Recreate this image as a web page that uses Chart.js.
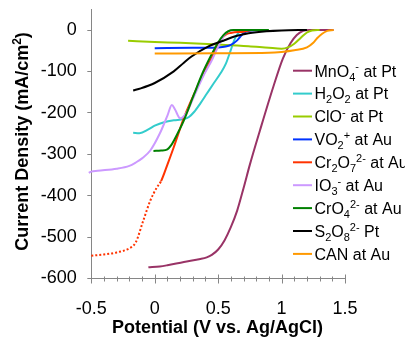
<!DOCTYPE html>
<html lang="en">
<head>
<meta charset="UTF-8" />
<title>Current density vs potential</title>
<script src="https://cdn.jsdelivr.net/npm/chart.js"></script>
<style>
  html, body { margin: 0; padding: 0; background: #fff; }
  #wrap { width: 405px; height: 339px; position: relative; }
</style>
</head>
<body>
<div id="wrap"><canvas id="myChart"></canvas></div>
<script>
  // curvas [potencial V, densidade mA/cm2]
  const mno4 = [[-0.05,-573],[0.04,-571],[0.1,-568],[0.23,-560],[0.36,-553],[0.41,-549],[0.45,-543],[0.5,-530],[0.55,-508],[0.6,-476],[0.65,-436],[0.7,-382],[0.75,-325],[0.83,-242],[0.935,-137],[1.01,-69],[1.07,-32],[1.12,-12],[1.17,-2],[1.22,0],[1.41,0]];
  const h2o2 = [[-0.17,-248],[-0.12,-249],[-0.05,-240],[0,-231],[0.08,-222],[0.15,-218],[0.23,-215],[0.27,-210],[0.31,-198],[0.36,-177],[0.41,-154],[0.46,-131],[0.52,-104],[0.56,-82],[0.6,-48],[0.63,-22],[0.66,-7],[0.7,-1],[0.75,0]];
  const clo = [[-0.21,-26],[0,-29],[0.2,-31],[0.5,-35],[0.74,-39],[0.9,-43],[1.0,-45],[1.05,-42],[1.1,-33],[1.15,-19],[1.2,-6],[1.24,-1],[1.3,0]];
  const vo2 = [[0,-44],[0.3,-43],[0.5,-42],[0.56,-40],[0.6,-36],[0.65,-25],[0.69,-11],[0.72,-4],[0.76,-1],[0.85,0]];
  const cr2o7 = [[-0.5,-545],[-0.4,-542],[-0.3,-537],[-0.2,-527],[-0.15,-513],[-0.09,-460],[-0.035,-412],[0.017,-380],[0.05,-365],[0.1,-325],[0.15,-283],[0.23,-212],[0.31,-155],[0.38,-108],[0.44,-73],[0.49,-42],[0.53,-20],[0.56,-11],[0.6,-7],[0.65,-5],[0.69,-5],[0.73,-2],[0.77,0],[0.85,0]];
  const io3 = [[-0.52,-345],[-0.5,-342],[-0.45,-340],[-0.3,-335],[-0.2,-328],[-0.15,-320],[-0.1,-310],[-0.035,-291],[0.04,-250],[0.1,-207],[0.135,-181],[0.16,-192],[0.2,-213],[0.25,-200],[0.31,-160],[0.38,-113],[0.45,-73],[0.5,-40],[0.55,-12],[0.58,-3],[0.62,0]];
  const cro4 = [[-0.01,-292],[0.05,-291],[0.1,-288],[0.13,-278],[0.16,-262],[0.19,-244],[0.23,-218],[0.31,-155],[0.38,-102],[0.45,-58],[0.5,-30],[0.54,-13],[0.58,-3],[0.62,0],[0.9,0]];
  const s2o8 = [[-0.17,-146],[-0.11,-141],[0,-128],[0.15,-100],[0.23,-79],[0.29,-64],[0.42,-40],[0.555,-24],[0.65,-14],[0.74,-8],[0.88,-3],[1.0,-1],[1.2,0]];
  const can = [[0,-57],[0.5,-56],[0.9,-55],[1.0,-53],[1.1,-49],[1.2,-42],[1.25,-31],[1.28,-20],[1.32,-9],[1.36,-2],[1.41,0]];

  const series = [mno4, h2o2, clo, vo2, cr2o7, io3, cro4, s2o8, can];
  const seriesNames = ['MnO_{4}^{-} at Pt', 'H_{2}O_{2} at Pt', 'ClO^{-} at Pt', 'VO_{2}^{+} at Au',
    'Cr_{2}O_{7}^{2-} at Au', 'IO_{3}^{-} at Au', 'CrO_{4}^{2-} at Au', 'S_{2}O_{8}^{2-} Pt', 'CAN at Au'];
  const seriesColors = ['#993366', '#33CCCC', '#99CC00', '#0033FF', '#FF3300', '#CC99FF', '#008000', '#000000', '#FF9900'];

  const xTicks = [-0.5, 0, 0.5, 1, 1.5];
  const xTickLabels = ['-0.5', '0', '0.5', '1', '1.5'];
  const yTicks = [-600, -500, -400, -300, -200, -100, 0];
  const yTickLabels = ['-600', '-500', '-400', '-300', '-200', '-100', '0'];

  const FONT = "'Liberation Sans', Arial, sans-serif";
  const AXIS_GREY = '#868686';

  // texto com indices e expoentes: _{..} e ^{..}
  function parteTexto(s) {
    const partes = [];
    const re = /([_^])\{([^}]*)\}|([^_^]+)/g;
    let m;
    while ((m = re.exec(s)) !== null) {
      if (m[3]) partes.push({ t: m[3], k: 'n' });
      else partes.push({ t: m[2], k: m[1] === '_' ? 'sub' : 'sup' });
    }
    return partes;
  }

  function desenhaRico(ctx, s, x, y, size, bold) {
    const w = bold ? 'bold ' : '';
    const small = Math.round(size * 0.68);
    let cx = x;
    for (const p of parteTexto(s)) {
      if (p.k === 'n') {
        ctx.font = w + size + 'px ' + FONT;
        ctx.fillText(p.t, cx, y);
      } else {
        ctx.font = w + small + 'px ' + FONT;
        ctx.fillText(p.t, cx, p.k === 'sub' ? y + size * 0.25 : y - size * 0.38);
      }
      cx += ctx.measureText(p.t).width;
    }
    return cx - x;
  }

  function larguraRica(ctx, s, size, bold) {
    const w = bold ? 'bold ' : '';
    const small = Math.round(size * 0.68);
    let total = 0;
    for (const p of parteTexto(s)) {
      ctx.font = w + (p.k === 'n' ? size : small) + 'px ' + FONT;
      total += ctx.measureText(p.t).width;
    }
    return total;
  }

  // ticks do eixo x, titulos e legenda
  const decoracao = {
    id: 'decoracao',
    afterDraw(chart) {
      const ctx = chart.ctx;
      const xs = chart.scales.x;
      const ys = chart.scales.y;
      const y0 = ys.bottom;
      ctx.save();
      ctx.strokeStyle = AXIS_GREY;
      ctx.lineWidth = 1;
      for (let i = -5; i <= 15; i++) {
        const px = Math.round(xs.getPixelForValue(i / 10)) + 0.5;
        const major = i % 5 === 0;
        ctx.beginPath();
        ctx.moveTo(px, y0 - (major ? 4 : 2));
        ctx.lineTo(px, y0 + (major ? 5 : 3));
        ctx.stroke();
      }

      ctx.fillStyle = '#000';
      ctx.textBaseline = 'middle';
      ctx.textAlign = 'center';
      ctx.font = 'bold 18px ' + FONT;
      ctx.fillText('Potential (V vs. Ag/AgCl)', 217.5, 328);

      // titulo do eixo y, rotacionado
      ctx.save();
      ctx.translate(21, 141.5);
      ctx.rotate(-Math.PI / 2);
      ctx.textAlign = 'left';
      ctx.textBaseline = 'alphabetic';
      const tituloY = 'Current Density (mA/cm^{2})';
      const wy = larguraRica(ctx, tituloY, 18, true);
      desenhaRico(ctx, tituloY, -wy / 2, 6.5, 18, true);
      ctx.restore();

      // legenda
      ctx.textAlign = 'left';
      ctx.textBaseline = 'alphabetic';
      seriesNames.forEach((nome, i) => {
        const ry = 70.7 + i * 22.9;
        ctx.strokeStyle = seriesColors[i];
        ctx.lineWidth = 2;
        ctx.beginPath();
        ctx.moveTo(293, ry);
        ctx.lineTo(312, ry);
        ctx.stroke();
        ctx.fillStyle = '#000';
        desenhaRico(ctx, nome, 314.5, ry + 5.8, 16, false);
      });
      ctx.restore();
    }
  };

  const ctx = document.getElementById('myChart').getContext('2d');

  new Chart(ctx, {
    type: 'line',
    data: {
      datasets: series.map((pts, i) => ({
        label: seriesNames[i],
        data: pts.map(p => ({ x: p[0], y: p[1] })),
        borderColor: seriesColors[i],
        borderWidth: 2,
        pointRadius: 0,
        fill: false,
        cubicInterpolationMode: 'monotone',
        clip: false,
        order: series.length - i,
        segment: pts === cr2o7
          ? { borderDash: c => (c.p1.parsed.x <= 0.05 ? [2, 2] : undefined) }
          : undefined
      }))
    },
    options: {
      responsive: true,
      maintainAspectRatio: false,
      animation: false,
      layout: { padding: { top: 9.3, right: 60, left: 0, bottom: 0 } },
      plugins: {
        legend: { display: false },
        tooltip: { enabled: false }
      },
      scales: {
        x: {
          type: 'linear',
          min: -0.5,
          max: 1.5,
          afterBuildTicks: s => { s.ticks = xTicks.map(v => ({ value: v })); },
          afterFit: s => { s.height = 60.5; s.paddingLeft = 0; s.paddingRight = 0; },
          grid: { display: false },
          border: { color: AXIS_GREY, width: 1 },
          ticks: {
            padding: 12,
            color: '#000',
            font: { family: FONT, size: 18 },
            maxRotation: 0,
            autoSkip: false,
            callback: (v, i) => xTickLabels[i]
          }
        },
        y: {
          type: 'linear',
          min: -600,
          max: 50,
          afterBuildTicks: s => { s.ticks = yTicks.map(v => ({ value: v })); },
          afterFit: s => { s.width = 91.3; s.paddingTop = 0; s.paddingBottom = 0; },
          grid: { drawOnChartArea: false, drawTicks: true, tickLength: 4, color: AXIS_GREY },
          border: { color: AXIS_GREY, width: 1 },
          ticks: {
            padding: 10.6,
            color: '#000',
            font: { family: FONT, size: 18 },
            autoSkip: false,
            callback: (v, i) => yTickLabels[i]
          }
        }
      }
    },
    plugins: [decoracao]
  });
</script>
</body>
</html>
